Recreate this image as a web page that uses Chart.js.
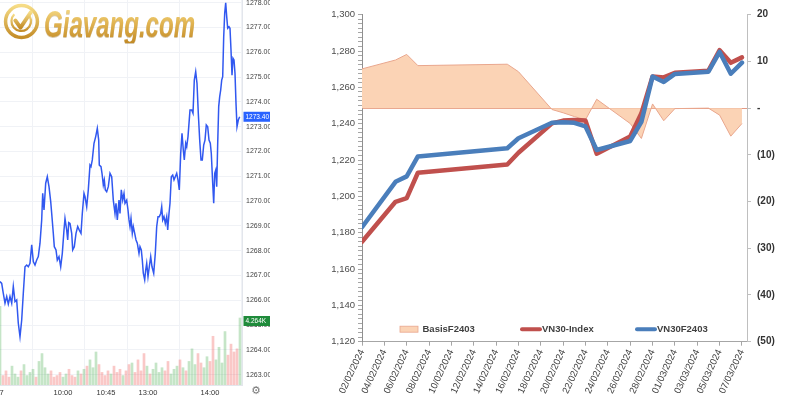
<!DOCTYPE html>
<html>
<head>
<meta charset="utf-8">
<script src="https://cdn.jsdelivr.net/npm/chart.js@4.4.1/dist/chart.umd.min.js"></script>
<style>
  html, body { margin: 0; padding: 0; background: #fff; }
  #wrap { position: relative; width: 800px; height: 400px; overflow: hidden; background: #fff; }
  #leftBox { position: absolute; left: 0; top: 0; width: 270px; height: 400px; }
  #rightBox { position: absolute; left: 270px; top: 0; width: 530px; height: 400px; }
  #logo { position: absolute; left: 3px; top: 3px; width: 260px; height: 45px; pointer-events: none; }
  #logo svg { position: absolute; left: 0; top: 0; }
  #logo .brand {
    position: absolute; left: 41px; top: 3px;
    font: italic bold 37px/37px "Liberation Sans", Arial, sans-serif;
    white-space: nowrap;
    transform: scaleX(0.65); transform-origin: left top;
    background: linear-gradient(180deg, #f7df8e 0%, #e2b552 45%, #c28a26 100%);
    -webkit-background-clip: text; background-clip: text; color: transparent;
    filter: drop-shadow(0 1px 0 rgba(140, 95, 10, 0.35));
  }
  #gear { position: absolute; left: 251px; top: 384px; font: 11px "DejaVu Sans", sans-serif; color: #777; }
</style>
</head>
<body>
<div id="wrap">
  <div id="leftBox"><canvas id="intraday" width="270" height="400"></canvas></div>
  <div id="logo">
    <svg width="37" height="37" viewBox="0 0 36 36">
      <defs>
        <linearGradient id="gold" x1="0" y1="0" x2="0" y2="1">
          <stop offset="0" stop-color="#f6dc86"/>
          <stop offset="1" stop-color="#c48d28"/>
        </linearGradient>
      </defs>
      <circle cx="18" cy="18" r="15.5" fill="none" stroke="url(#gold)" stroke-width="3.4"/>
      <path d="M11 11 A9.5 9.5 0 1 0 26 13" fill="none" stroke="url(#gold)" stroke-width="2.2"/>
      <path d="M12 17 L17 24 L27 9" fill="none" stroke="url(#gold)" stroke-width="3.8" stroke-linecap="round" stroke-linejoin="round"/>
    </svg>
    <span class="brand">Giavang.com</span>
  </div>
  <div id="gear">⚙</div>
  <div id="rightBox"><canvas id="basisChart" width="530" height="400"></canvas></div>
</div>

<script>
// ---- left panel: intraday VN30 (minute on the compressed session axis, price)
const intradayPoints = [
  [0, 1266.75], [1.7, 1266.68], [3.3, 1266.28], [5, 1265.88], [6.7, 1266.15], [8.3, 1265.85],
  [10, 1266.15], [11.7, 1265.88], [13.3, 1266.55], [15, 1265.94], [16.7, 1266.01], [18.3, 1265.07],
  [20, 1264.53], [21.7, 1265.2], [23.3, 1266.28], [25, 1267.35], [26.7, 1267.42], [28.3, 1267.35],
  [30, 1267.49], [31.7, 1268.23], [33.3, 1267.56], [35, 1267.42], [36.7, 1267.62], [38.3, 1267.76],
  [40, 1268.3], [41.7, 1269.24], [42.7, 1270.31], [44, 1269.64], [45.7, 1270.72], [47.3, 1270.98],
  [49, 1270.58], [50.7, 1269.98], [51.7, 1269.5], [53.3, 1268.7], [54.3, 1268.16], [56, 1268.03],
  [57.3, 1267.62], [59, 1267.76], [60.7, 1267.35], [62.3, 1267.89], [64, 1268.83], [65, 1269.3],
  [66.7, 1268.83], [67.7, 1268.43], [68.7, 1269.13], [70, 1269.1], [71.7, 1268.7], [72.7, 1268.03],
  [74.3, 1268.16], [76, 1268.7], [77.7, 1268.97], [79.3, 1268.83], [81, 1268.7], [82.3, 1269.5],
  [84, 1270.31], [85, 1270.18], [86.7, 1269.77], [88.3, 1270.45], [90, 1271.45], [91, 1271.39],
  [92.3, 1271.66], [94, 1272.33], [95.7, 1272.6], [97.3, 1272.93], [98.7, 1272.46], [99.3, 1271.45],
  [101, 1271.39], [102, 1271.12], [103.3, 1270.65], [104.3, 1270.85], [105.3, 1270.45], [106.7, 1270.38],
  [108.3, 1270.58], [110, 1271.12], [111.7, 1270.98], [113.3, 1270.04], [115, 1269.5], [116, 1269.91],
  [117.3, 1269.24], [119, 1270.04], [120, 1269.5], [121.3, 1270.45], [122.7, 1270.04], [124, 1270.31],
  [125, 1269.91], [126.7, 1270.04], [128, 1269.64], [129, 1269.24], [130, 1268.97], [131, 1269.3],
  [132.3, 1268.7], [133.3, 1268.97], [134.7, 1268.7], [136, 1268.43], [137.3, 1268.3], [139, 1267.89],
  [140, 1268.16], [141.3, 1268.03], [142.3, 1267.62], [143.3, 1267.09], [144.7, 1266.82], [145.7, 1267.22],
  [146.7, 1267.49], [148, 1266.95], [149.3, 1267.35], [150.7, 1267.76], [152, 1267.35], [153.7, 1267.09],
  [155.3, 1267.89], [156.7, 1268.97], [158, 1269.37], [159.3, 1269.37], [160.7, 1269.5], [161.7, 1269.77],
  [162.7, 1269.24], [164, 1269.37], [165.3, 1269.1], [166.7, 1269.37], [167.7, 1268.83], [169, 1269.5],
  [170, 1269.91], [171.3, 1270.98], [172.7, 1271.05], [174, 1270.85], [175.3, 1270.98], [176.7, 1271.12],
  [178, 1270.85], [179.3, 1270.45], [180.7, 1271.92], [182, 1272.73], [183.3, 1272.06], [184.3, 1271.66],
  [185.7, 1272.33], [186.7, 1272.19], [188, 1272.6], [190, 1273.67], [191.7, 1273.67], [193, 1273.54],
  [194.3, 1274.88], [195.7, 1275.22], [197, 1274.75], [198.3, 1273.54], [199.7, 1272.46], [201, 1271.66],
  [202.3, 1271.66], [203.7, 1272.26], [205, 1272.46], [206.3, 1273.07], [207.7, 1273.0], [209, 1272.46],
  [210.3, 1272.33], [211.3, 1271.92], [212.7, 1270.72], [213.7, 1269.91], [214.7, 1271.12], [215.7, 1271.25],
  [216.7, 1270.58], [217.7, 1272.33], [218.7, 1273.81], [219.7, 1274.21], [220.7, 1274.48], [221.7, 1274.88],
  [222.7, 1275.02], [223.7, 1276.63], [224.7, 1277.57], [225.7, 1278.0], [226.7, 1277.44], [227.7, 1276.97],
  [229, 1277.03], [230, 1276.97], [231, 1276.09], [232, 1275.08], [233, 1275.76], [234, 1275.69],
  [235, 1275.15], [236, 1273.94], [237, 1273.0], [238.3, 1273.27], [239.7, 1273.4]
];

// volume per bar, thousands
const volumePoints = [
  [0, 5.0], [3, 0.6], [6, 0.9], [9, 0.5], [12, 1.2], [15, 0.7], [18, 0.5], [21, 0.9], [24, 1.3],
  [27, 0.6], [30, 0.8], [33, 1.0], [36, 0.5], [39, 1.5], [42, 2.0], [45, 1.1], [48, 0.7], [51, 0.9],
  [54, 0.5], [57, 0.6], [60, 0.8], [63, 0.5], [66, 0.7], [69, 1.0], [72, 0.6], [75, 0.5], [78, 0.9],
  [81, 0.7], [84, 1.0], [87, 1.2], [90, 1.6], [93, 1.1], [96, 2.1], [99, 1.3], [102, 0.8], [105, 0.6],
  [108, 0.9], [111, 0.7], [114, 1.2], [117, 0.8], [120, 1.0], [123, 0.6], [126, 0.9], [129, 1.3],
  [132, 1.4], [135, 0.8], [138, 1.6], [141, 0.9], [144, 2.0], [147, 1.2], [150, 0.7], [153, 1.0],
  [156, 1.4], [159, 0.8], [162, 1.1], [165, 0.9], [168, 1.5], [171, 0.7], [174, 1.0], [177, 1.2],
  [180, 1.6], [183, 1.1], [186, 0.9], [189, 1.5], [192, 2.3], [195, 1.3], [198, 2.0], [201, 1.4],
  [204, 1.1], [207, 1.8], [210, 1.5], [213, 3.1], [216, 1.6], [219, 2.4], [222, 1.4], [225, 3.4],
  [228, 1.9], [231, 2.6], [234, 2.1], [237, 2.3], [240, 4.264]
];

const timeTicks = [1.5, 63, 106, 148, 210];
const timeLabels = ['7', '10:00', '10:45', '13:00', '14:00'];

// ---- right panel: VN30 vs VN30F2403 and basis
const tradeDates = ['02/02/2024', '05/02/2024', '06/02/2024', '07/02/2024', '15/02/2024', '16/02/2024',
  '19/02/2024', '20/02/2024', '21/02/2024', '22/02/2024', '23/02/2024', '26/02/2024', '27/02/2024',
  '28/02/2024', '29/02/2024', '01/03/2024', '04/03/2024', '05/03/2024', '06/03/2024', '07/03/2024'];
const vn30Index = [1175, 1197, 1199, 1213, 1217.5, 1224, 1240.2, 1241.7, 1242, 1241.7,
  1223.5, 1233, 1245.7, 1266, 1265.5, 1268, 1269.2, 1280.5, 1273.5, 1276.5];
const vn30F2403 = [1183, 1208, 1211, 1222, 1226.5, 1232, 1240.5, 1240.8, 1240.5, 1238.5,
  1225.5, 1230.5, 1241, 1266, 1263, 1267.4, 1268.6, 1279.5, 1267.5, 1273.6];
const basisF2403 = [8.4, 10.3, 11.5, 9.1, 9.4, 7.8, -0.3, -1, -1.8, -2.5,
  1.9, -3.3, -6.5, 0.9, -2.7, -0.1, 0, -1.5, -6, -3.3];

const DAY = 86400000;
const firstDay = Date.UTC(2024, 1, 2);

function dayOffset(s) {
  const [d, m, y] = s.split('/').map(Number);
  return (Date.UTC(y, m - 1, d) - firstDay) / DAY;
}

function dateLabel(v) {
  const dt = new Date(firstDay + v * DAY);
  const dd = String(dt.getUTCDate()).padStart(2, '0');
  const mm = String(dt.getUTCMonth() + 1).padStart(2, '0');
  return `${dd}/${mm}/${dt.getUTCFullYear()}`;
}

function priceAt(m) {
  let p = intradayPoints[0][1];
  for (const [t, v] of intradayPoints) {
    if (t <= m) p = v;
  }
  return p;
}

const noPad = (s) => { s.paddingLeft = 0; s.paddingRight = 0; s.paddingTop = 0; s.paddingBottom = 0; };

// price / volume tags on the right axis of the intraday chart
const lastTags = {
  id: 'lastTags',
  afterDraw(chart) {
    const { ctx, scales } = chart;
    const lastPrice = intradayPoints[intradayPoints.length - 1][1];
    const lastVol = volumePoints[volumePoints.length - 1][1];
    const x0 = scales.y.left + 1.5;
    const tag = (y, text, bg) => {
      ctx.fillStyle = bg;
      ctx.fillRect(x0, y - 5, 270 - x0, 10);
      ctx.fillStyle = '#fff';
      ctx.font = '6.5px "Liberation Sans", Arial, sans-serif';
      ctx.textBaseline = 'middle';
      ctx.textAlign = 'left';
      ctx.fillText(text, x0 + 2, y + 0.5);
    };
    ctx.save();
    tag(scales.y.getPixelForValue(lastPrice), lastPrice.toFixed(2), '#2962ff');
    tag(scales.vol.getPixelForValue(lastVol) + 3, lastVol.toFixed(3) + 'K', '#1f8b3b');
    ctx.restore();
  }
};

new Chart(document.getElementById('intraday'), {
  type: 'line',
  data: {
    datasets: [
      {
        type: 'line',
        label: 'VN30',
        data: intradayPoints.map(p => ({ x: p[0], y: p[1] })),
        borderColor: '#3158f0',
        borderWidth: 1.5,
        pointRadius: 0,
        tension: 0,
        yAxisID: 'y',
        order: 0
      },
      {
        type: 'bar',
        label: 'Volume',
        data: volumePoints.map(p => ({ x: p[0], y: p[1] })),
        backgroundColor: volumePoints.map(([m]) =>
          priceAt(m) >= priceAt(m - 3) ? 'rgba(76, 175, 80, 0.32)' : 'rgba(239, 83, 80, 0.32)'),
        barThickness: 2,
        yAxisID: 'vol',
        order: 1
      }
    ]
  },
  options: {
    responsive: false,
    animation: false,
    devicePixelRatio: 1,
    layout: { padding: 0 },
    plugins: { legend: { display: false }, tooltip: { enabled: false } },
    scales: {
      x: {
        type: 'linear',
        min: 0,
        max: 242,
        offset: false,
        afterBuildTicks: (s) => { s.ticks = timeTicks.map(v => ({ value: v })); },
        afterFit: (s) => { s.height = 15; noPad(s); },
        ticks: {
          autoSkip: false,
          maxRotation: 0,
          padding: 3,
          color: '#333',
          font: { family: '"Liberation Sans", Arial, sans-serif', size: 7.5 },
          callback: (v) => timeLabels[timeTicks.indexOf(v)]
        },
        grid: { color: '#f0f2f6', drawTicks: false },
        border: { color: '#e3e6ec' }
      },
      y: {
        position: 'right',
        min: 1262.58,
        max: 1278.11,
        afterFit: (s) => { s.width = 28; noPad(s); },
        ticks: {
          stepSize: 1,
          includeBounds: false,
          padding: 4,
          color: '#444',
          font: { family: '"Liberation Sans", Arial, sans-serif', size: 7 },
          callback: (v) => Number(v).toFixed(2)
        },
        grid: { color: '#f0f2f6', drawTicks: false },
        border: { color: '#e3e6ec' }
      },
      vol: { display: false, min: 0, max: 24.5 }
    }
  },
  plugins: [lastTags]
});

// Excel-style legend sitting inside the plot, above the date axis
const legendSlots = [38, 158, 273];
const excelLegend = {
  id: 'excelLegend',
  afterDraw(chart) {
    const { ctx, chartArea } = chart;
    const y = chartArea.bottom - 12.5;
    ctx.save();
    ctx.font = 'bold 9.5px "Liberation Sans", Arial, sans-serif';
    ctx.textBaseline = 'middle';
    ctx.textAlign = 'left';
    chart.data.datasets.forEach((ds, i) => {
      const x = chartArea.left + legendSlots[i];
      if (ds.fill) {
        ctx.fillStyle = ds.backgroundColor;
        ctx.fillRect(x, y - 3, 18, 6);
        ctx.strokeStyle = ds.borderColor;
        ctx.lineWidth = 0.8;
        ctx.strokeRect(x, y - 3, 18, 6);
      } else {
        ctx.strokeStyle = ds.borderColor;
        ctx.lineWidth = 4;
        ctx.lineCap = 'round';
        ctx.beginPath();
        ctx.moveTo(x + 2, y);
        ctx.lineTo(x + 20, y);
        ctx.stroke();
      }
      ctx.fillStyle = '#404040';
      ctx.fillText(ds.label, x + (ds.fill ? 22.5 : 22), y + 0.5);
    });
    ctx.restore();
  }
};

const days = tradeDates.map(dayOffset);
const xy = (vals) => vals.map((v, i) => ({ x: days[i], y: v }));
const axisFont = { family: '"Liberation Sans", Arial, sans-serif', size: 9.5 };

new Chart(document.getElementById('basisChart'), {
  type: 'line',
  data: {
    datasets: [
      {
        label: 'BasisF2403',
        data: xy(basisF2403),
        yAxisID: 'y1',
        fill: 'origin',
        backgroundColor: '#fbd3b5',
        borderColor: '#e9a78e',
        borderWidth: 1,
        pointRadius: 0,
        tension: 0,
        order: 2
      },
      {
        label: 'VN30-Index',
        data: xy(vn30Index),
        yAxisID: 'y',
        fill: false,
        borderColor: '#c0504d',
        borderWidth: 4.5,
        borderJoinStyle: 'round',
        borderCapStyle: 'round',
        pointRadius: 0,
        tension: 0,
        order: 1
      },
      {
        label: 'VN30F2403',
        data: xy(vn30F2403),
        yAxisID: 'y',
        fill: false,
        borderColor: '#4a7ebb',
        borderWidth: 4.5,
        borderJoinStyle: 'round',
        borderCapStyle: 'round',
        pointRadius: 0,
        tension: 0,
        order: 0
      }
    ]
  },
  options: {
    responsive: false,
    animation: false,
    devicePixelRatio: 1,
    layout: { padding: { top: 14.7, left: 0, right: 0, bottom: 0 } },
    plugins: { legend: { display: false }, tooltip: { enabled: false } },
    scales: {
      x: {
        type: 'linear',
        min: 0,
        max: 34.45,
        afterFit: (s) => { s.height = 58.3; noPad(s); },
        ticks: {
          stepSize: 2,
          includeBounds: false,
          autoSkip: false,
          minRotation: 65,
          maxRotation: 65,
          padding: 2,
          color: '#404040',
          font: axisFont,
          callback: (v) => dateLabel(v)
        },
        grid: { drawOnChartArea: false, tickLength: 4, tickColor: '#a6a6a6' },
        border: { color: '#a6a6a6' }
      },
      y: {
        position: 'left',
        min: 1120,
        max: 1300,
        afterFit: (s) => { s.width = 92; noPad(s); },
        ticks: {
          stepSize: 2.5,
          includeBounds: false,
          autoSkip: false,
          padding: 3,
          color: '#4d4d4d',
          font: axisFont,
          callback: (v) => (v % 20 === 0 ? Number(v).toLocaleString('en-US') : '')
        },
        grid: { drawOnChartArea: false, tickLength: 4, tickColor: '#a6a6a6' },
        border: { color: '#8f8f8f' }
      },
      y1: {
        position: 'right',
        min: -50,
        max: 20,
        afterFit: (s) => { s.width = 53; noPad(s); },
        ticks: {
          stepSize: 10,
          includeBounds: false,
          autoSkip: false,
          padding: 6,
          color: '#333',
          font: { ...axisFont, size: 10, weight: 'bold' },
          callback: (v) => (v === 0 ? '-' : v < 0 ? `(${-v})` : String(v))
        },
        grid: {
          color: (c) => (c.tick && c.tick.value === 0 ? '#e39a85' : 'rgba(0,0,0,0)'),
          lineWidth: 1,
          tickLength: 4,
          tickColor: '#bfbfbf'
        },
        border: { color: '#bfbfbf' }
      }
    }
  },
  plugins: [excelLegend]
});
</script>
</body>
</html>
